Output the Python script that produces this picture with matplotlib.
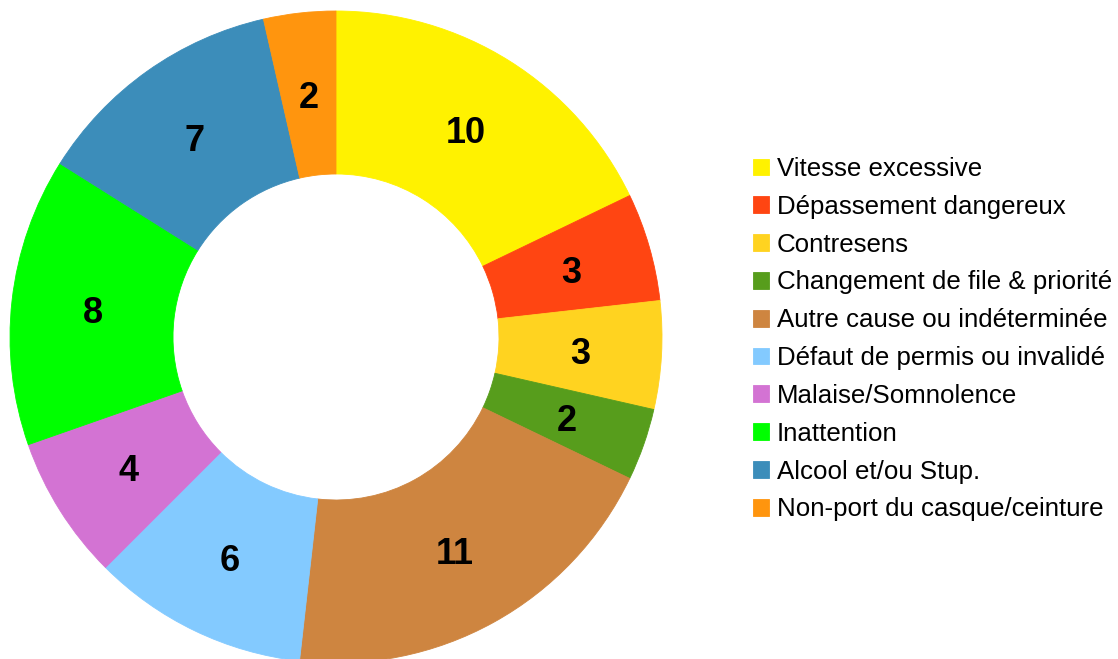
import matplotlib
matplotlib.use("Agg")
import matplotlib.pyplot as plt

categories = [
    "Vitesse excessive",
    "Dépassement dangereux",
    "Contresens",
    "Changement de file & priorité",
    "Autre cause ou indéterminée",
    "Défaut de permis ou invalidé",
    "Malaise/Somnolence",
    "Inattention",
    "Alcool et/ou Stup.",
    "Non-port du casque/ceinture",
]
values = [10, 3, 3, 2, 11, 6, 4, 8, 7, 2]
colors = ["#fff200", "#ff4512", "#ffd320", "#579d1c", "#ce8540",
          "#83caff", "#d373d3", "#00ff00", "#3c8dba", "#ff950e"]

plt.rcParams['font.family'] = ['Liberation Sans', 'DejaVu Sans']

W, H = 1118, 659
fig = plt.figure(figsize=(W / 100, H / 100), dpi=100)
cx, cy, R = 336, 337, 326
ax = fig.add_axes([(cx - R) / W, (H - cy - R) / H, 2 * R / W, 2 * R / H])

wedges, texts, autotexts = ax.pie(
    values, colors=colors, startangle=90, counterclock=False,
    radius=1.0, wedgeprops=dict(width=0.5, linewidth=0.6, antialiased=True),
    autopct=lambda p: f"{p * sum(values) / 100:.0f}", pctdistance=0.75,
    textprops=dict(fontsize=26, fontweight='bold', color='black'))
for w, c in zip(wedges, colors):
    w.set_edgecolor(c)
for t in autotexts:
    t.set_verticalalignment('center_baseline')
ax.set_xlim(-1, 1)
ax.set_ylim(-1, 1)
ax.set_aspect('equal')
ax.axis('off')

fig.legend(wedges, categories, loc='upper left',
           bbox_to_anchor=(753 / W, (H - 157) / H),
           frameon=False, fontsize=18.6, handlelength=0.62, handleheight=0.62,
           handletextpad=0.3, labelspacing=0.535, borderpad=0, borderaxespad=0)

fig.savefig("out.png", dpi=100)
